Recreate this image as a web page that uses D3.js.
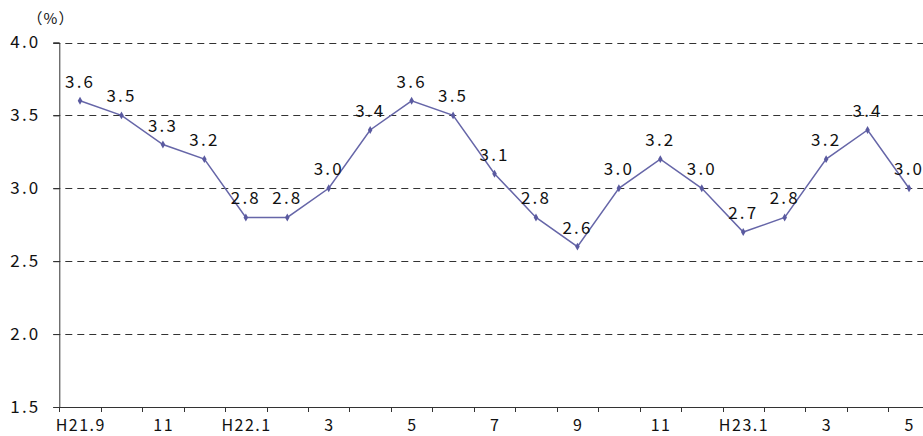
<!DOCTYPE html>
<html>
<head>
<meta charset="utf-8">
<script src="https://cdn.jsdelivr.net/npm/d3@7"></script>
<style>
  body { margin: 0; background: #fff; }
  svg text { font-family: "Noto Sans CJK JP", "DejaVu Sans", sans-serif; fill: #111; }
</style>
</head>
<body>
<div id="chart"></div>
<script>
(function() {

  var months = ['H21.9', '10', '11', '12', 'H22.1', '2', '3', '4', '5', '6', '7', '8', '9', '10', '11', '12',
                'H23.1', '2', '3', '4', '5'];
  var rates = [3.6, 3.5, 3.3, 3.2, 2.8, 2.8, 3.0, 3.4, 3.6, 3.5, 3.1, 2.8, 2.6, 3.0, 3.2, 3.0, 2.7, 2.8, 3.2, 3.4, 3.0];
  var yTicks = [1.5, 2.0, 2.5, 3.0, 3.5, 4.0];

  var width = 923, height = 436;
  var left = 59.3, top = 42.5, bottom = 407;
  var band = 41.45;
  var ls = 2.2;

  var svg = d3.select('#chart')
    .append('svg')
    .attr('width', width)
    .attr('height', height);

  var keys = months.map(function(m, i) { return i; });

  var x = d3.scaleBand()
    .domain(keys)
    .range([left, left + band * months.length]);

  var y = d3.scaleLinear()
    .domain([1.5, 4.0])
    .range([bottom, top]);

  // grid
  svg.append('g')
    .selectAll('line')
    .data(yTicks.slice(1))
    .enter()
    .append('line')
    .attr('x1', left - 6)
    .attr('x2', width)
    .attr('y1', function(d) { return Math.round(y(d)) + 0.5; })
    .attr('y2', function(d) { return Math.round(y(d)) + 0.5; })
    .attr('stroke', '#333')
    .attr('stroke-dasharray', '7,5');

  // y axis
  var yAxis = svg.append('g')
    .attr('transform', 'translate(' + (left) + ',0)')
    .call(d3.axisLeft(y).tickValues(yTicks).tickFormat(d3.format('.1f')).tickSize(6).tickPadding(15 - ls));
  yAxis.select('.domain').attr('stroke', '#333');
  yAxis.selectAll('.tick line').attr('stroke', '#333');
  yAxis.selectAll('text').attr('font-size', 17).attr('fill', '#111').attr('letter-spacing', ls);

  // x axis (labels on every other month)
  var xAxis = svg.append('g')
    .attr('transform', 'translate(0,' + bottom + ')')
    .call(d3.axisBottom(x).tickSize(0).tickFormat(function(i) { return i % 2 === 0 ? months[i] : ''; }).tickPadding(0));
  xAxis.select('.domain').attr('stroke', '#333').attr('d', 'M' + left + ',0.5H' + width);
  xAxis.selectAll('text')
    .attr('font-size', 16)
    .attr('fill', '#111')
    .attr('letter-spacing', 1.5)
    .attr('dy', null)
    .attr('dx', 0.75)
    .attr('y', 24);

  svg.append('g')
    .selectAll('line')
    .data(keys.concat([months.length]))
    .enter()
    .append('line')
    .attr('x1', function(i) { return Math.round(left + band * i) + 0.5; })
    .attr('x2', function(i) { return Math.round(left + band * i) + 0.5; })
    .attr('y1', bottom)
    .attr('y2', bottom + 5)
    .attr('stroke', '#333');

  svg.append('text')
    .attr('x', 51)
    .attr('y', 24)
    .attr('text-anchor', 'middle')
    .attr('font-size', 15)
    .attr('letter-spacing', 1)
    .text('（%）');

  var cx = function(d, i) { return x(i) + x.bandwidth() / 2; };

  svg.append('path')
    .datum(rates)
    .attr('fill', 'none')
    .attr('stroke', '#6666a8')
    .attr('stroke-width', 1.5)
    .attr('d', d3.line().x(cx).y(function(d) { return y(d); }));

  svg.append('g')
    .selectAll('path')
    .data(rates)
    .enter()
    .append('path')
    .attr('d', d3.symbol(d3.symbolDiamond, 18))
    .attr('fill', '#5a5aa0')
    .attr('transform', function(d, i) { return 'translate(' + cx(d, i) + ',' + y(d) + ')'; });

  svg.append('g')
    .selectAll('text')
    .data(rates)
    .enter()
    .append('text')
    .attr('x', function(d, i) { return cx(d, i) - 1 + ls / 2; })
    .attr('y', function(d) { return y(d) - 13; })
    .attr('text-anchor', 'middle')
    .attr('font-size', 17)
    .attr('letter-spacing', ls)
    .text(function(d) { return d3.format('.1f')(d); });

})();
</script>
</body>
</html>
